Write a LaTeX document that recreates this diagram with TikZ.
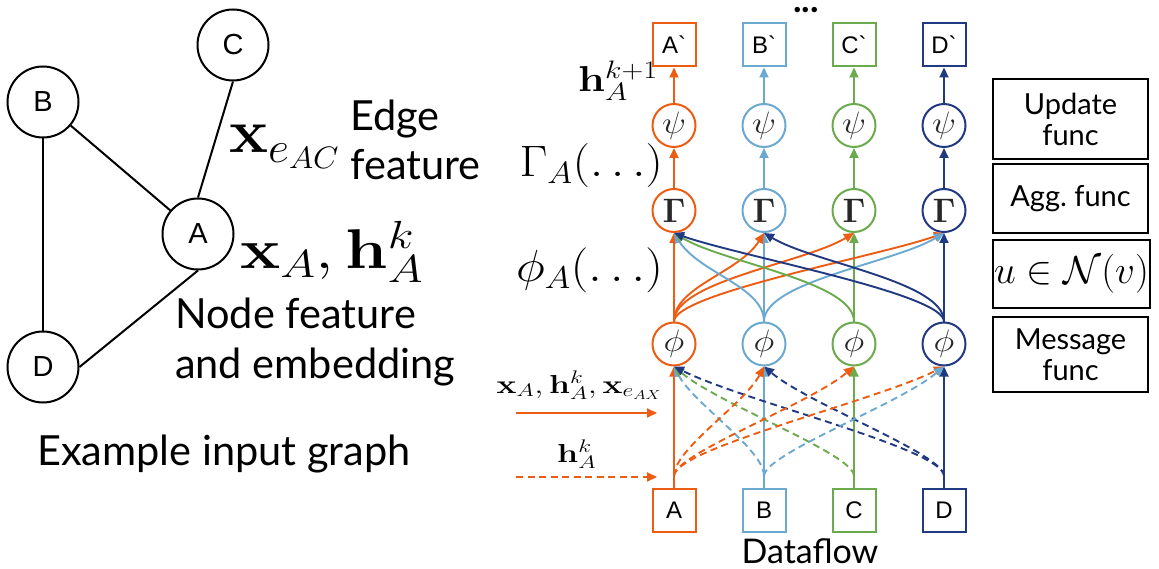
\RequirePackage{fix-cm}
\documentclass[tikz,border=0pt]{standalone}
\usepackage[no-math]{fontspec}
\usepackage{graphicx}
\setmainfont{Lato}
\newfontfamily\arialfont{Liberation Sans}
\usetikzlibrary{arrows.meta}

\definecolor{cA}{RGB}{237,92,19}
\definecolor{cB}{RGB}{107,169,208}
\definecolor{cC}{RGB}{107,171,77}
\definecolor{cD}{RGB}{33,57,128}
\definecolor{glyph}{RGB}{40,40,40}

\newcommand{\fs}[1]{\fontsize{#1}{#1}\selectfont}
% math set wider than usual
\newcommand{\wide}[2]{\scalebox{#1}[1]{$#2$}}

\tikzset{
  gnode/.style={circle, draw, line width=2pt, minimum size=71pt, inner sep=0pt,
                font=\arialfont\fontsize{29}{32}\selectfont},
  gedge/.style={line width=2pt},
  colbox/.style={rectangle, draw=#1, line width=2pt, minimum size=43pt, inner sep=0pt,
                 fill=white, font=\arialfont\fontsize{24}{26}\selectfont},
  opnode/.style={circle, draw=#1, line width=2pt, minimum size=43pt, inner sep=0pt,
                 fill=white, text=glyph},
  flow/.style={draw=#1, line width=1.9pt, -{Triangle[length=10pt,width=9pt]}},
  dflow/.style={flow=#1, dash pattern=on 7pt off 4.5pt, shorten <=12pt},
  fbox/.style={rectangle, draw, line width=1.8pt, inner sep=0pt, align=center,
               font=\fontsize{29}{31}\selectfont},
  lbl/.style={inner sep=0pt, anchor=base west, font=\fontsize{41.5}{48}\selectfont},
  mlbl/.style={inner sep=0pt, font=\fs{#1}},
}

\begin{document}
\begin{tikzpicture}[x=1pt, y=-1pt]
\useasboundingbox (0,0) rectangle (1159,569);

% ---------- input graph ----------
\node[gnode] (gA) at (198,234) {A};
\node[gnode] (gB) at (43,102) {B};
\node[gnode] (gC) at (233,45) {C};
\node[gnode] (gD) at (43,367) {D};
\draw[gedge] (gB) -- (gA);
\draw[gedge] (gC.south) -- (gA.north);
\draw[gedge] (gB.south) -- (gD.north);
\draw[gedge] (gD.east) -- (gA.south);

\node[mlbl=62, anchor=base west] (xe) at (229,153) {\wide{1.06}{\mathbf{x}_{e_{AC}}}};
\node[lbl] (edge1) at (350,131) {Edge};
\node[lbl] (edge2) at (350,180) {feature};
\node[mlbl=56, anchor=base west] (xh) at (240,269) {\wide{1.21}{\mathbf{x}_A,\mathbf{h}_A^k}};
\node[lbl] (nf1) at (175,328) {Node feature};
\node[lbl] (nf2) at (175,378) {and embedding};
\node[lbl] (cap) at (37,465) {Example input graph};

% ---------- dataflow columns ----------
\foreach \n/\x/\c in {A/674/cA, B/764/cB, C/854/cC, D/944/cD}{
  \node[colbox=\c] (top\n) at (\x,45) {\n\textasciigrave};
  \node[opnode=\c, font=\fs{31}] (psi\n) at (\x,125.5) {\wide{1.15}{\psi}};
  \node[opnode=\c, font=\fs{34}] (gam\n) at (\x,210.5) {$\mathbf{\Gamma}$};
  \node[opnode=\c, font=\fs{31}] (phi\n) at (\x,344) {\wide{1.15}{\phi}};
  \node[colbox=\c] (bot\n) at (\x,510.5) {\n};
  \draw[flow=\c] (psi\n) -- (top\n);
  \draw[flow=\c] (gam\n) -- (psi\n);
  \draw[flow=\c] (phi\n) -- (gam\n);
  \draw[flow=\c] (bot\n) -- (phi\n);
}

% messages: phi -> aggregation
\draw[flow=cA] (phiA.north) .. controls +(0,-35) and +(-25,40) .. (gamB.south);
\draw[flow=cA] (phiA.north) .. controls +(0,-40) and +(-50,30) .. (gamC.south);
\draw[flow=cA] (phiA.north) .. controls +(0,-28) and +(-64,23) .. (gamD.south);
\draw[flow=cB] (phiB.north) .. controls +(0,-35) and +(25,40) .. (gamA.south);
\draw[flow=cB] (phiB.north) .. controls +(0,-40) and +(-50,30) .. (gamD.south);
\draw[flow=cC] (phiC.north) .. controls +(0,-40) and +(50,30) .. (gamA.south);
\draw[flow=cD] (phiD.north) .. controls +(0,-28) and +(64,23) .. (gamA.south);
\draw[flow=cD] (phiD.north) .. controls +(0,-40) and +(50,30) .. (gamB.south);

% neighbour embeddings: inputs -> phi
\draw[dflow=cB] (botB.north) .. controls +(0,-39) and +(20,38) .. (phiA.south);
\draw[dflow=cC] (botC.north) .. controls +(0,-34) and +(45,38) .. (phiA.south);
\draw[dflow=cD] (botD.north) .. controls +(0,-39) and +(70,35) .. (phiA.south);
\draw[dflow=cD] (botD.north) .. controls +(0,-34) and +(45,38) .. (phiB.south);
\draw[dflow=cA] (botA.north) .. controls +(0,-39) and +(-20,38) .. (phiB.south);
\draw[dflow=cA] (botA.north) .. controls +(0,-34) and +(-45,38) .. (phiC.south);
\draw[dflow=cA] (botA.north) .. controls +(0,-39) and +(-70,35) .. (phiD.south);
\draw[dflow=cB] (botB.north) .. controls +(0,-34) and +(-45,38) .. (phiD.south);

% labels of the dataflow
\node[mlbl=36, anchor=base west] (hk1) at (578,92) {\wide{1.2}{\mathbf{h}_A^{k+1}}};
\node[mlbl=44, anchor=base east] (gl) at (663,177) {\wide{1.1}{\Gamma_A(\dots)}};
\node[mlbl=45, anchor=base east] (pl) at (663,282) {\wide{1.1}{\phi_A(\dots)}};
\node[inner sep=0pt, anchor=base, font=\bfseries\fs{36}] (dots) at (806,13) {...};
\node[inner sep=0pt, anchor=base, font=\fs{34}] (df) at (810,563) {Dataflow};

% legend arrows
\coordinate (ls1) at (516,413);
\coordinate (le1) at (657,413);
\coordinate (ls2) at (516,477);
\coordinate (le2) at (657,477);
\draw[flow=cA] (ls1) -- (le1);
\draw[flow=cA, dash pattern=on 7pt off 4.5pt] (ls2) -- (le2);
\node[mlbl=26, anchor=base east] (lg1) at (662,393) {\wide{1.29}{\mathbf{x}_A,\mathbf{h}_A^k,\mathbf{x}_{e_{AX}}}};
\node[mlbl=26, anchor=base west] (lg2) at (557,462) {\wide{1.3}{\mathbf{h}_A^k}};

% ---------- function legend ----------
\node[fbox, minimum width=155pt, minimum height=80pt] (upd) at (1070.5,119) {Update\\func};
\node[fbox, minimum width=155pt, minimum height=69pt] (agg) at (1070.5,198.5) {Agg.\ func};
\node[fbox, minimum width=157pt, minimum height=68pt, font=\fs{39}] (nbr) at (1071.5,274) {$u\in\mathcal{N}(v)$};
\node[fbox, minimum width=155pt, minimum height=75pt] (msg) at (1070.5,354.5) {Message\\func};
\end{tikzpicture}
\end{document}
